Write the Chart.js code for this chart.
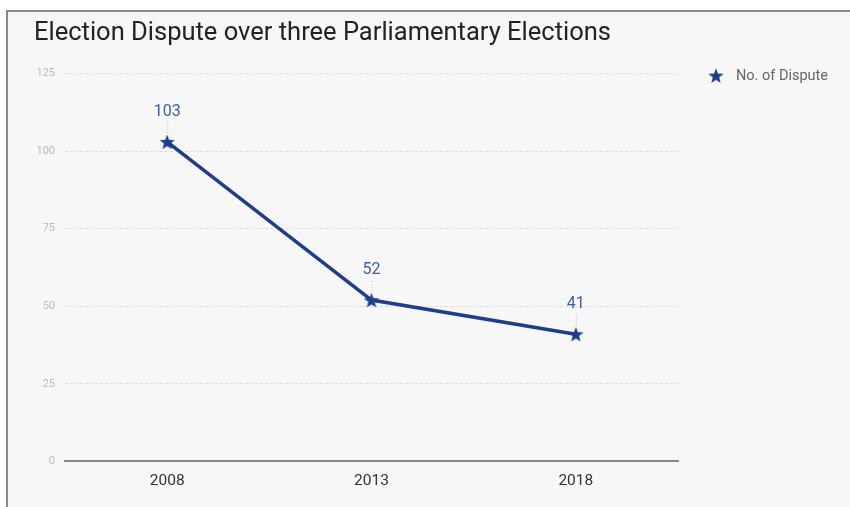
<!DOCTYPE html>
<html>
<head>
<meta charset="utf-8">
<script src="https://cdn.jsdelivr.net/npm/chart.js@4"></script>
<style>
  html, body { margin: 0; padding: 0; background: #fff; }
  #box {
    position: absolute; left: 6px; top: 10px; width: 844px; height: 497px;
    border-left: 2px solid #8a8a8a; border-top: 2px solid #8a8a8a;
    background: #f7f7f7; box-sizing: border-box;
  }
  #wrap { position: absolute; left: 0; top: 0; width: 842px; height: 495px; }
</style>
</head>
<body>
<div id="box"><div id="wrap"><canvas id="myChart"></canvas></div></div>
<script>
var years = ['2008', '2013', '2018'];
var disputes = [103, 52, 41];
var seriesName = 'No. of Dispute';
var yTicks = [0, 25, 50, 75, 100, 125];

var navy = '#1f3d8c';

function makeStar(size, color) {
  var c = document.createElement('canvas');
  c.width = size; c.height = size;
  var g = c.getContext('2d');
  var cx = size / 2, cy = size / 2 + 0.8;
  var outer = size / 2, inner = outer * 0.42;
  g.beginPath();
  for (var i = 0; i < 10; i++) {
    var r = i % 2 === 0 ? outer : inner;
    var a = -Math.PI / 2 + i * Math.PI / 5;
    var x = cx + r * Math.cos(a), y = cy + r * Math.sin(a);
    if (i === 0) g.moveTo(x, y); else g.lineTo(x, y);
  }
  g.closePath();
  g.fillStyle = color;
  g.fill();
  return c;
}

var star = makeStar(16, navy);

// value labels with a dotted leader down to each point
var valueLabels = {
  id: 'valueLabels',
  afterDatasetsDraw: function(chart) {
    var ctx = chart.ctx;
    var meta = chart.getDatasetMeta(0);
    ctx.save();
    meta.data.forEach(function(pt, i) {
      ctx.strokeStyle = 'rgba(120,140,190,0.6)';
      ctx.lineWidth = 1;
      ctx.setLineDash([1, 2]);
      ctx.beginPath();
      ctx.moveTo(pt.x + 0.5, pt.y - 19);
      ctx.lineTo(pt.x + 0.5, pt.y - 7);
      ctx.stroke();
      ctx.setLineDash([]);
      ctx.fillStyle = '#3d5ea8';
      ctx.font = '16px Roboto';
      ctx.textAlign = 'center';
      ctx.textBaseline = 'middle';
      ctx.fillText(disputes[i], pt.x, pt.y - 30);
    });
    ctx.restore();
  }
};

// legend drawn at the top right of the plot
var sideLegend = {
  id: 'sideLegend',
  afterDraw: function(chart) {
    var ctx = chart.ctx;
    var a = chart.chartArea;
    var x = a.right + 38, y = a.top + 2;
    ctx.save();
    ctx.drawImage(star, x - 8, y - 8, 16, 16);
    ctx.fillStyle = '#666';
    ctx.font = '14.5px Roboto';
    ctx.textAlign = 'left';
    ctx.textBaseline = 'middle';
    ctx.fillText(seriesName, x + 20, y + 1);
    ctx.restore();
  }
};

var ctx = document.getElementById('myChart').getContext('2d');
new Chart(ctx, {
  type: 'line',
  data: {
    labels: years,
    datasets: [{
      label: seriesName,
      data: disputes,
      borderColor: navy,
      backgroundColor: navy,
      borderWidth: 3.5,
      pointStyle: star,
      pointRadius: 8,
      pointHoverRadius: 8,
      tension: 0
    }]
  },
  options: {
    responsive: true,
    maintainAspectRatio: false,
    animation: false,
    layout: { padding: { left: 26, right: 172, top: 2, bottom: 15 } },
    plugins: {
      title: {
        display: true,
        text: 'Election Dispute over three Parliamentary Elections',
        align: 'start',
        color: '#222',
        font: { family: 'Roboto', size: 25.5, weight: 'normal' },
        padding: { top: 4, bottom: 25 }
      },
      legend: { display: false },
      tooltip: { enabled: false }
    },
    scales: {
      x: {
        offset: true,
        grid: { display: false },
        border: { display: true, color: '#8a8a8a', width: 2 },
        ticks: { color: '#333', font: { family: 'Roboto', size: 15.5 }, padding: 2 }
      },
      y: {
        min: 0,
        max: 125,
        afterBuildTicks: function(axis) {
          axis.ticks = yTicks.map(function(v) { return { value: v }; });
        },
        afterFit: function(axis) { axis.width = 31; },
        grid: { color: '#dedede', lineWidth: 1, drawTicks: false },
        border: { display: false, dash: [3, 2] },
        ticks: { color: '#bbb', font: { family: 'Roboto', size: 11 }, padding: 10 }
      }
    }
  },
  plugins: [valueLabels, sideLegend]
});
</script>
</body>
</html>
